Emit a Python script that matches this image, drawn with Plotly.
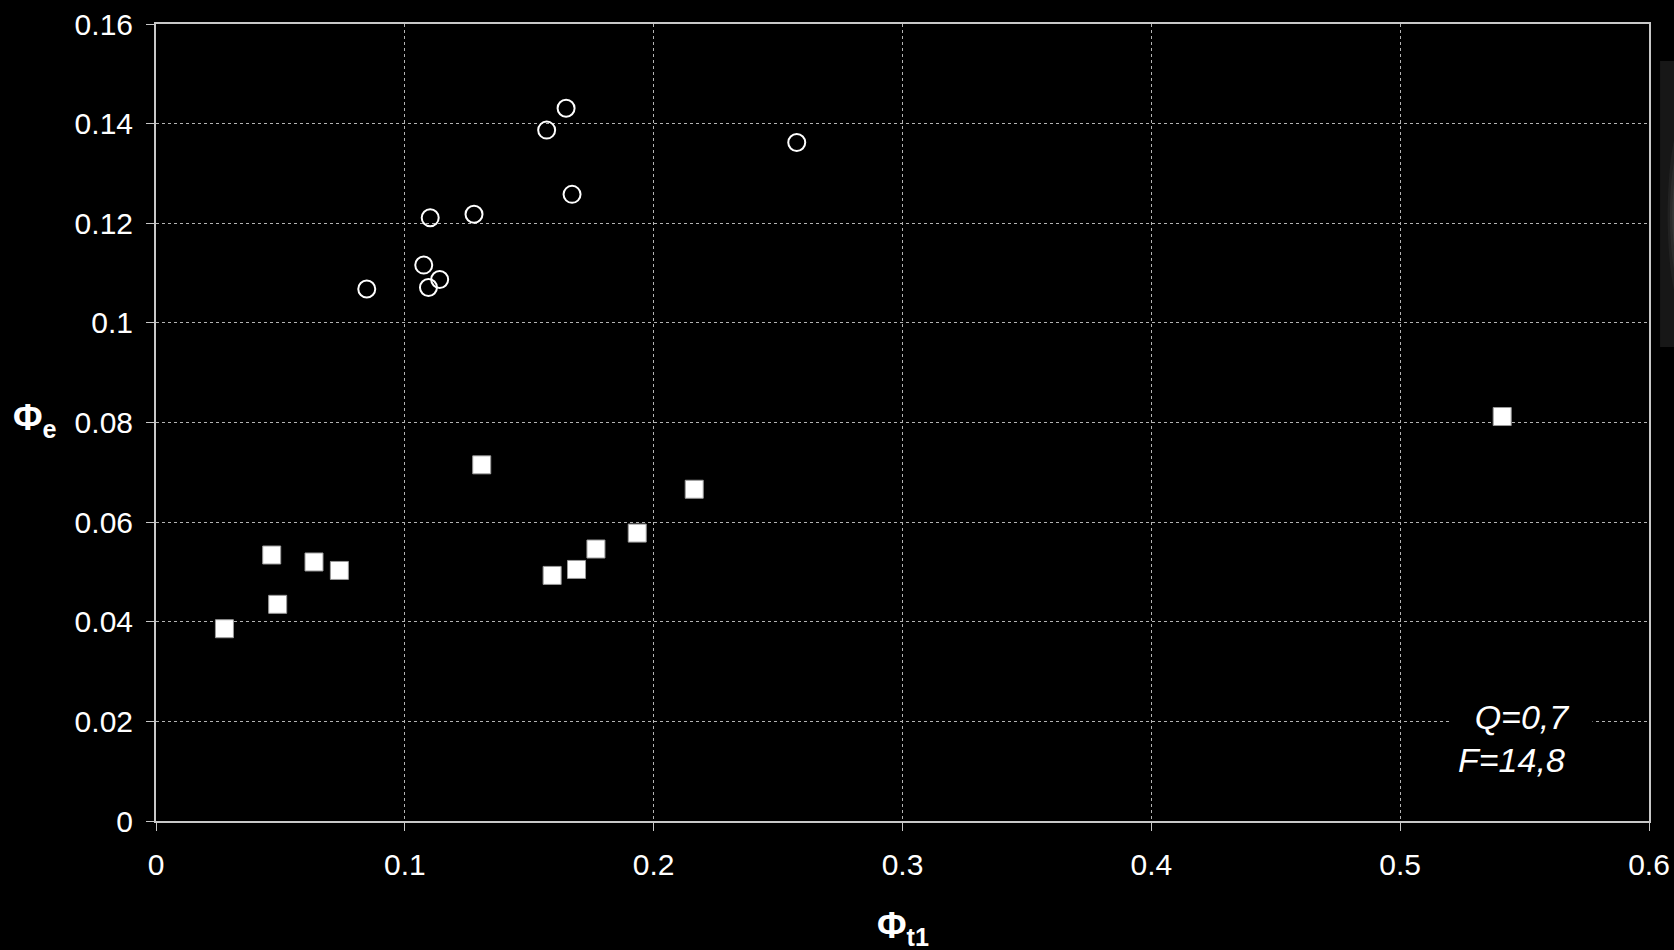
import plotly.graph_objects as go

# Series 1: open circles
circle_x = [0.0847, 0.1076, 0.1095, 0.1140, 0.1102, 0.1278, 0.1570, 0.1648, 0.1672, 0.2575]
circle_y = [0.1068, 0.1116, 0.1071, 0.1087, 0.1211, 0.1218, 0.1387, 0.1431, 0.1258, 0.1362]

# Series 2: filled squares
square_x = [0.0275, 0.0465, 0.0489, 0.0635, 0.0737, 0.1309, 0.1592, 0.1690, 0.1768, 0.1934, 0.2163, 0.5410]
square_y = [0.0386, 0.0534, 0.0435, 0.0520, 0.0503, 0.0715, 0.0493, 0.0505, 0.0546, 0.0578, 0.0666, 0.0812]

x_ticks = [0, 0.1, 0.2, 0.3, 0.4, 0.5, 0.6]
x_tick_labels = ["0", "0.1", "0.2", "0.3", "0.4", "0.5", "0.6"]
y_ticks = [0, 0.02, 0.04, 0.06, 0.08, 0.10, 0.12, 0.14, 0.16]
y_tick_labels = ["0", "0.02", "0.04", "0.06", "0.08", "0.1", "0.12", "0.14", "0.16"]

FONT = "Liberation Sans, Arial, sans-serif"
AXIS_COLOR = "#c8c8c8"
GRID_COLOR = "#b4b4b4"

fig = go.Figure()

fig.add_trace(go.Scatter(
    x=circle_x, y=circle_y, mode="markers",
    marker=dict(symbol="circle-open", size=17, color="white", line=dict(width=2, color="white")),
    showlegend=False,
))
fig.add_trace(go.Scatter(
    x=square_x, y=square_y, mode="markers",
    marker=dict(symbol="square", size=18, color="white", line=dict(width=1, color="#9a9a9a")),
    showlegend=False,
))

axis_common = dict(
    showline=True, linecolor=AXIS_COLOR, linewidth=2, mirror=True,
    ticks="outside", ticklen=8, tickwidth=1, tickcolor=AXIS_COLOR,
    showgrid=True, gridcolor=GRID_COLOR, griddash="dot", gridwidth=1,
    zeroline=False, automargin=False,
    tickfont=dict(family=FONT, size=30, color="white"),
)

fig.update_xaxes(range=[0, 0.6], tickvals=x_ticks, ticktext=x_tick_labels,
                 ticklabelstandoff=8, **axis_common)
fig.update_yaxes(range=[0, 0.16], tickvals=y_ticks, ticktext=y_tick_labels,
                 ticklabelstandoff=7, **axis_common)

# axis titles
fig.add_annotation(
    text="<b>Φ<sub>e</sub></b>", xref="paper", yref="paper", x=-0.081, y=0.503,
    showarrow=False, font=dict(family=FONT, size=36, color="white"),
    xanchor="center", yanchor="middle",
)
fig.add_annotation(
    text="<b>Φ<sub>t1</sub></b>", xref="paper", yref="paper", x=0.5, y=-0.134,
    showarrow=False, font=dict(family=FONT, size=36, color="white"),
    xanchor="center", yanchor="middle",
)

# parameter labels
fig.add_annotation(
    text="<i>Q=0,7</i>", xref="paper", yref="paper", x=0.915, y=0.130,
    showarrow=False, font=dict(family=FONT, size=34, color="white"),
    align="center", xanchor="center", yanchor="middle",
    bgcolor="black", width=140, borderpad=0,
)
fig.add_annotation(
    text="<i>F=14,8</i>", xref="paper", yref="paper", x=0.9077, y=0.0766,
    showarrow=False, font=dict(family=FONT, size=34, color="white"),
    align="center", xanchor="center", yanchor="middle",
)

# partially visible panel at the right edge
fig.add_shape(type="rect", xref="paper", yref="paper", x0=1.0074, x1=1.03, y0=0.5947, y1=0.9536,
              fillcolor="#171717", line=dict(width=0), layer="below")
for k, op in enumerate([0.12, 0.15, 0.2, 0.25]):
    fig.add_shape(type="circle", xref="paper", yref="paper",
                  x0=1.0125 + 0.0015 * k, x1=1.035, y0=0.64 + 0.02 * k, y1=0.88 - 0.02 * k,
                  fillcolor="#6a6a6a", opacity=op, line=dict(width=0), layer="below")

fig.update_layout(
    width=1674, height=950,
    margin=dict(l=156, r=25, t=24, b=129),
    paper_bgcolor="black", plot_bgcolor="black",
    font=dict(family=FONT, color="white"),
)

fig.write_html("out.html")
